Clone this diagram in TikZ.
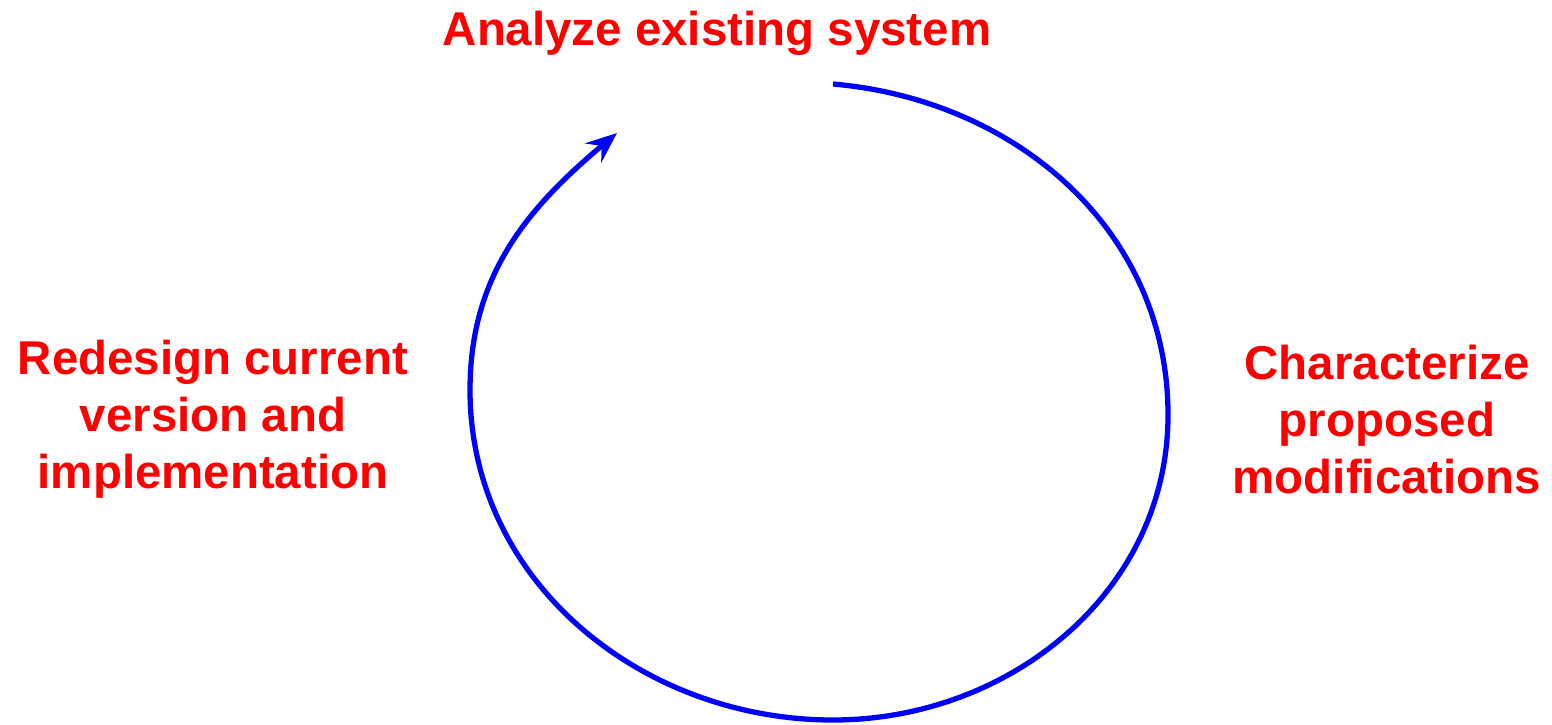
\documentclass[tikz,border=0pt]{standalone}
\usepackage{fontspec}
\setmainfont{Liberation Sans}
\usetikzlibrary{arrows.meta}
\begin{document}
\begin{tikzpicture}[
  x=1cm,y=1cm,
  stage/.style={text=red, font=\fontsize{27}{32.2}\selectfont\bfseries, align=center, inner sep=0pt, anchor=base},
  cycle/.style={draw=blue, line width=3pt, -{Stealth[length=0.62cm, width=0.5cm, inset=0.22cm]}}
]
\useasboundingbox (0,0) rectangle (31.04,-14.5);

\node[stage] (analyze)  at (14.34,-0.92) {Analyze existing system};
\node[stage] (redesign) at (4.26,-9.76)  {Redesign current\\version and\\implementation};
\node[stage] (modify)   at (27.74,-9.86) {Characterize\\proposed\\modifications};

\coordinate (top)    at (16.66,-1.68);
\coordinate (right)  at (23.36,-8.30);
\coordinate (bottom) at (16.66,-14.40);
\coordinate (left)   at (9.40,-7.80);
\coordinate (back)   at (12.34,-2.66);

\draw[cycle] (top) to[out=-5,in=90] (right) to[out=-90,in=0] (bottom)
  to[out=180,in=-90] (left) to[out=90,in=-140] (back);
\end{tikzpicture}
\end{document}
